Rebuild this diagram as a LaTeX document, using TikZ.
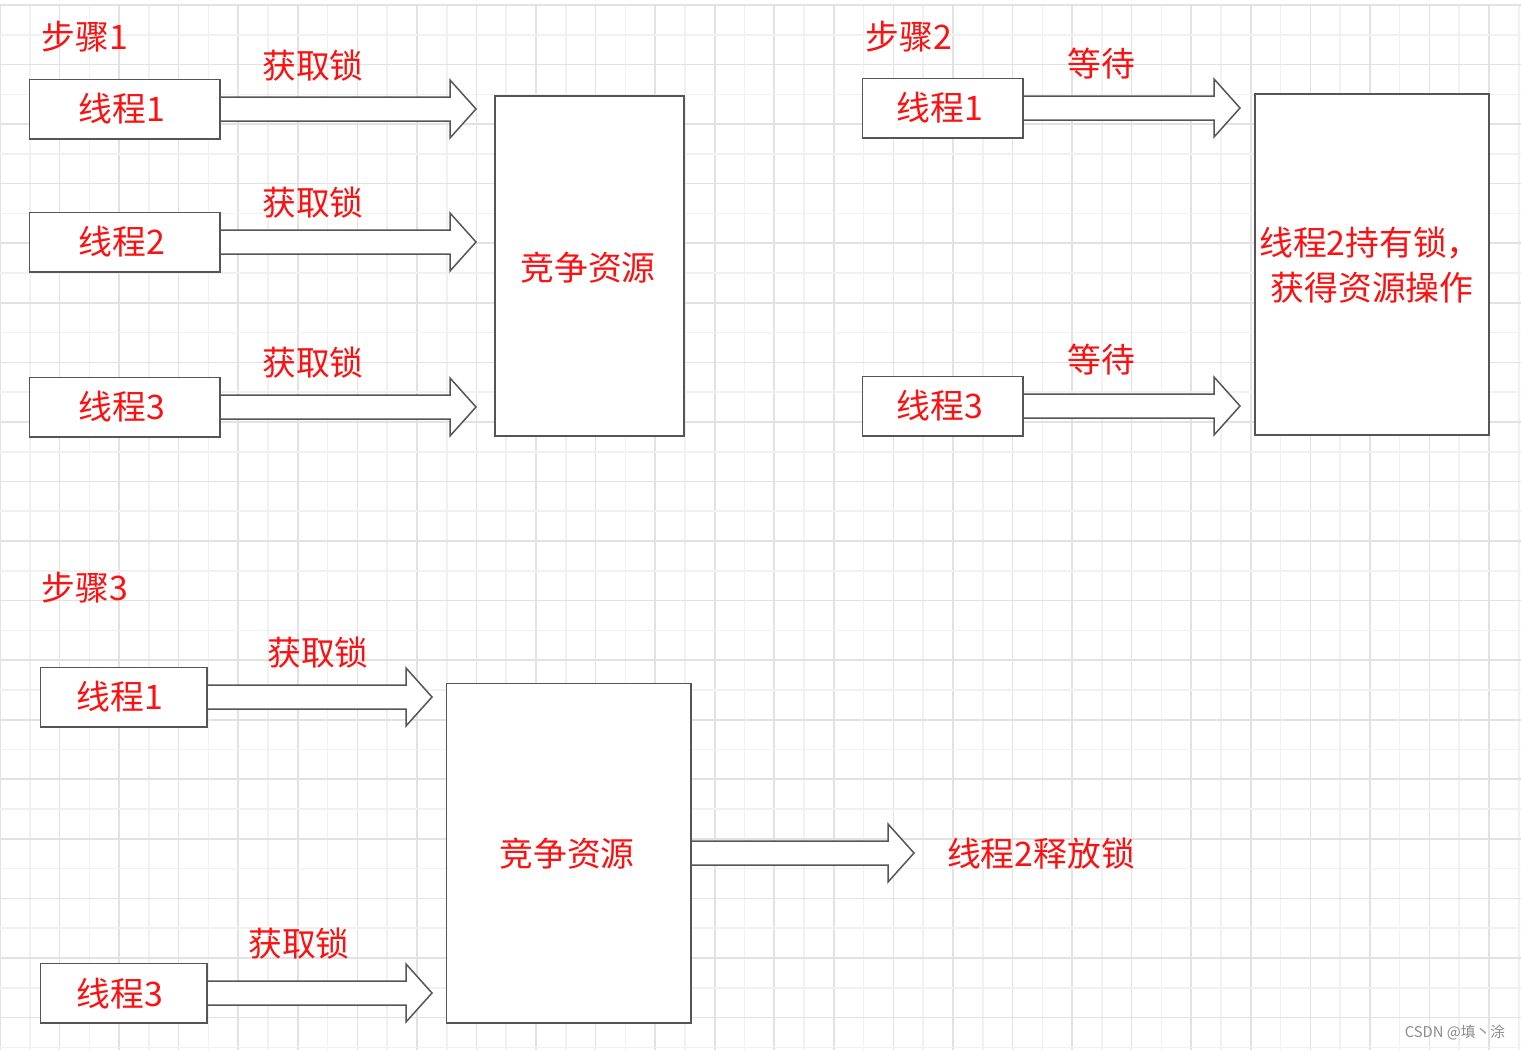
\documentclass[tikz,border=0pt]{standalone}
\usepackage{fontspec}
\setmainfont{Noto Sans CJK SC}
\usetikzlibrary{calc}
\definecolor{gridlight}{HTML}{F1F1F1}
\definecolor{griddark}{HTML}{E2E2E2}
\definecolor{edge}{HTML}{555555}
\definecolor{txtred}{HTML}{FF1010}
\tikzset{
  box/.style={draw=edge, line width=0.75pt, fill=white, inner sep=0pt},
  lbl/.style={text=txtred, font=\fontsize{16.9}{22.5}\selectfont, inner sep=0pt},
  barrow/.style={draw=edge, line width=0.75pt, fill=white, line join=miter},
}
\newcommand{\blockarr}[2]{%
  \draw[barrow] let \p1=(#1), \p2=(#2) in
    (\x1,\y1+6pt) -- (\x2-13pt,\y1+6pt) -- (\x2-13pt,\y1+14.5pt) -- (\x2,\y1)
    -- (\x2-13pt,\y1-14.5pt) -- (\x2-13pt,\y1-6pt) -- (\x1,\y1-6pt);}
\begin{document}
\begin{tikzpicture}[x=0.5pt,y=-0.5pt]
\useasboundingbox (0,0) rectangle (1521,1050);
\fill[white] (0,0) rectangle (1521,1050);
% grid
\foreach \k in {0,...,51}{
  \pgfmathsetmacro{\xx}{\k*29.78}
  \pgfmathtruncatemacro{\ev}{mod(\k,2)}
  \ifnum\ev=0
    \draw[griddark, line width=0.8pt] (\xx,5) -- (\xx,1050);
  \else
    \draw[gridlight, line width=0.8pt] (\xx,5) -- (\xx,1050);
  \fi
}
\foreach \k in {0,...,35}{
  \pgfmathsetmacro{\yy}{5+\k*29.78}
  \pgfmathtruncatemacro{\ev}{mod(\k,2)}
  \ifnum\ev=0
    \draw[griddark, line width=0.8pt] (0,\yy) -- (1521,\yy);
  \else
    \draw[gridlight, line width=0.8pt] (0,\yy) -- (1521,\yy);
  \fi
}
\draw[griddark, line width=1.4pt] (0,5) -- (1521,5);

% ---------- Step 1 ----------
\node[lbl] (s1) at (85,37) {步骤1};
\node[box, minimum width=94.5pt, minimum height=29pt] (a1) at (124.5,109) {};
\node[box, minimum width=94.5pt, minimum height=29pt] (a2) at (124.5,242) {};
\node[box, minimum width=94.5pt, minimum height=29pt] (a3) at (124.5,407) {};
\coordinate (ta1) at (476,109);
\coordinate (ta2) at (476,242);
\coordinate (ta3) at (476,407);
\blockarr{a1.east}{ta1}
\blockarr{a2.east}{ta2}
\blockarr{a3.east}{ta3}
\draw[box] (a1.north west) rectangle (a1.south east);
\draw[box] (a2.north west) rectangle (a2.south east);
\draw[box] (a3.north west) rectangle (a3.south east);
\node[lbl] at (122,109) {线程1};
\node[lbl] at (122,242) {线程2};
\node[lbl] at (122,407) {线程3};
\node[lbl] (la1) at (313,66) {获取锁};
\node[lbl] (la2) at (313,203) {获取锁};
\node[lbl] (la3) at (313,363) {获取锁};
\node[box, minimum width=94.5pt, minimum height=170pt] (r1) at (589.5,266) {};
\node[lbl] at (588,268) {竞争资源};

% ---------- Step 2 ----------
\node[lbl] (s2) at (909,37) {步骤2};
\node[box, minimum width=79.5pt, minimum height=29pt] (b1) at (942.5,108) {};
\node[box, minimum width=79.5pt, minimum height=29pt] (b3) at (942.5,406) {};
\coordinate (tb1) at (1240,108);
\coordinate (tb3) at (1240,406);
\blockarr{b1.east}{tb1}
\blockarr{b3.east}{tb3}
\draw[box] (b1.north west) rectangle (b1.south east);
\draw[box] (b3.north west) rectangle (b3.south east);
\node[lbl] at (940,108) {线程1};
\node[lbl] at (940,406) {线程3};
\node[lbl] (lb1) at (1101,64) {等待};
\node[lbl] (lb3) at (1101,360) {等待};
\node[box, minimum width=117pt, minimum height=170.5pt] (r2) at (1372,264.5) {};
\node[lbl, align=center] at (1370,265) {线程2持有锁，\\\hspace*{2pt}获得资源操作};

% ---------- Step 3 ----------
\node[lbl] (s3) at (85,588) {步骤3};
\node[box, minimum width=82.5pt, minimum height=29pt] (c1) at (123.5,697) {};
\node[box, minimum width=82.5pt, minimum height=29pt] (c3) at (123.5,993) {};
\coordinate (tc1) at (432,697);
\coordinate (tc3) at (432,993);
\blockarr{c1.east}{tc1}
\blockarr{c3.east}{tc3}
\draw[box] (c1.north west) rectangle (c1.south east);
\draw[box] (c3.north west) rectangle (c3.south east);
\node[lbl] at (120,697) {线程1};
\node[lbl] at (120,994) {线程3};
\node[lbl] (lc1) at (318,653) {获取锁};
\node[lbl] (lc3) at (299,944) {获取锁};
\node[box, minimum width=121.5pt, minimum height=169pt] (r3) at (568.5,853) {};
\coordinate (tr3) at (914,853);
\blockarr{r3.east}{tr3}
\draw[box] (r3.north west) rectangle (r3.south east);
\node[lbl] at (567,854) {竞争资源};
\node[lbl] (rel) at (1041,854) {线程2释放锁};

% watermark
\node[text=gray!90, font=\fontsize{7.4}{8}\selectfont, inner sep=0pt] (wm) at (1455,1032) {CSDN @填丶涂};
\end{tikzpicture}
\end{document}
